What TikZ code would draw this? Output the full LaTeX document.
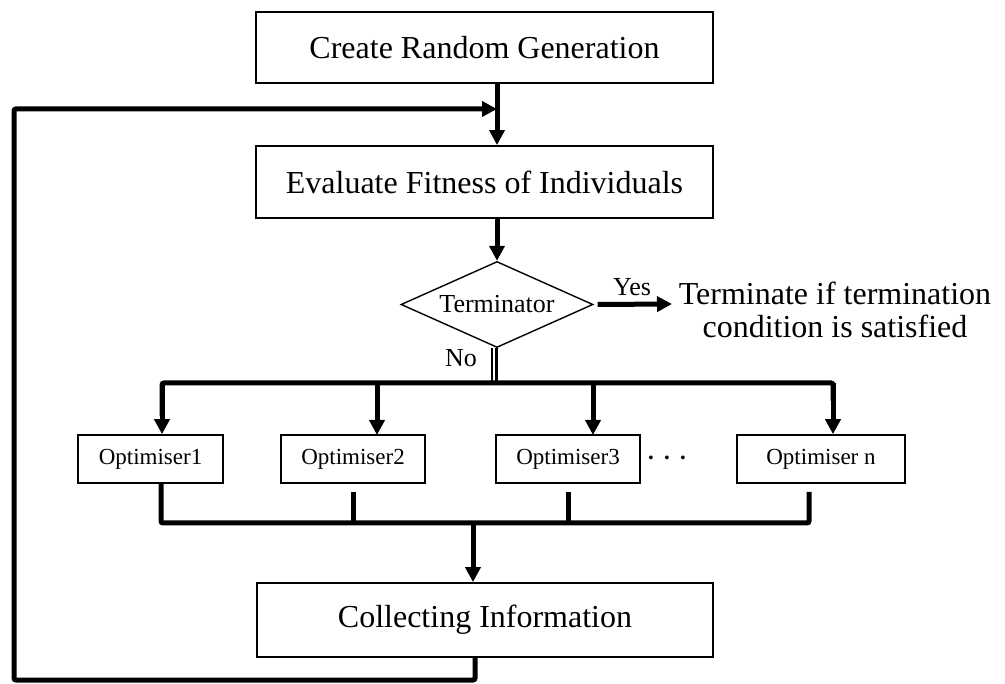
\documentclass[tikz,border=0pt]{standalone}
\usepackage{fontspec}
\setmainfont{Liberation Serif}
\usetikzlibrary{arrows.meta,shapes.geometric}
\begin{document}
\begin{tikzpicture}[x=1pt,y=-1pt,
  box/.style={draw,line width=1.8pt,inner sep=0pt,font=\fontsize{32}{33}\selectfont},
  optbox/.style={draw,line width=1.6pt,inner sep=0pt,minimum height=48pt,font=\fontsize{23}{25}\selectfont},
  flow/.style={line width=5pt,-{Triangle[length=15pt,width=15pt]}},
  link/.style={line width=5pt},
  lbl/.style={inner sep=0pt}]
\useasboundingbox (0,0) rectangle (1005,684);

% main boxes
\node[box,minimum width=457pt,minimum height=71pt] (create) at (484.5,47.5) {Create Random Generation};
\node[box,minimum width=457pt,minimum height=72pt] (eval) at (484.5,182) {Evaluate Fitness of Individuals};
\node[draw,diamond,aspect=1.68,line width=1.4pt,inner sep=0pt,minimum width=192pt,
      font=\fontsize{26}{28}\selectfont] (term) at (497,304.5) {Terminator};
\node[box,minimum width=456pt,minimum height=74pt] (collect) at (485,620) {Collecting Information};

% optimisers
\node[optbox,minimum width=145pt] (o1) at (150.5,459) {Optimiser1};
\node[optbox,minimum width=144pt] (o2) at (353,459) {Optimiser2};
\node[optbox,minimum width=144pt] (o3) at (568,459) {Optimiser3};
\node[optbox,minimum width=168pt] (on) at (821,459) {Optimiser n};
\node[lbl,font=\fontsize{32}{32}\selectfont] (dots) at (667,462) {·\,·\,·};

% termination output
\node[lbl,align=center,font=\fontsize{32}{33}\selectfont] (stop) at (835,310)
  {Terminate if termination\\condition is satisfied};
\node[lbl,font=\fontsize{26}{28}\selectfont] (yes) at (632,287) {Yes};
\node[lbl,font=\fontsize{26}{28}\selectfont] (no) at (461,358) {No};

% helper points
\coordinate (jt) at (497,109);
\coordinate (topbus) at (494,383);
\coordinate (b1) at (162,383);
\coordinate (bn) at (833,383);
\coordinate (lowbus) at (473,523);
\coordinate (l1) at (161,523);
\coordinate (ln) at (809,523);
\coordinate (loopA) at (475,680);
\coordinate (loopB) at (14,680);
\coordinate (loopC) at (14,109);

% main spine
\draw[flow] (create.south -| jt) -- (eval.north -| jt);
\draw[flow] (eval.south -| term) -- (term.north);
\draw[flow] (term.east) ++(4,0) -- (672,304);

% loop back
\draw[flow,rounded corners=2pt] (collect.south -| loopA) -- (loopA) -- (loopB) -- (loopC) -- (jt);

% branch to optimisers
\draw[line width=2.5pt,double,double distance=2pt] (term.south -| topbus) -- (topbus);
\draw[link,rounded corners=2pt] (b1 |- o1.north) ++(0,-18) -- (b1) -- (bn) -- ++(0,18);
\draw[flow] (b1) -- (b1 |- o1.north);
\draw[flow] (377,383) -- (377,435);
\draw[flow] (593,383) -- (593,435);
\draw[flow] (bn) -- (bn |- on.north);

% merge into collecting
\draw[link,rounded corners=2pt] (l1 |- o1.south) -- (l1) -- (ln) -- (809,492);
\draw[link] (353,492) -- (353,523);
\draw[link] (568,492) -- (568,523);
\draw[flow] (lowbus) -- (collect.north -| lowbus);
\end{tikzpicture}
\end{document}
